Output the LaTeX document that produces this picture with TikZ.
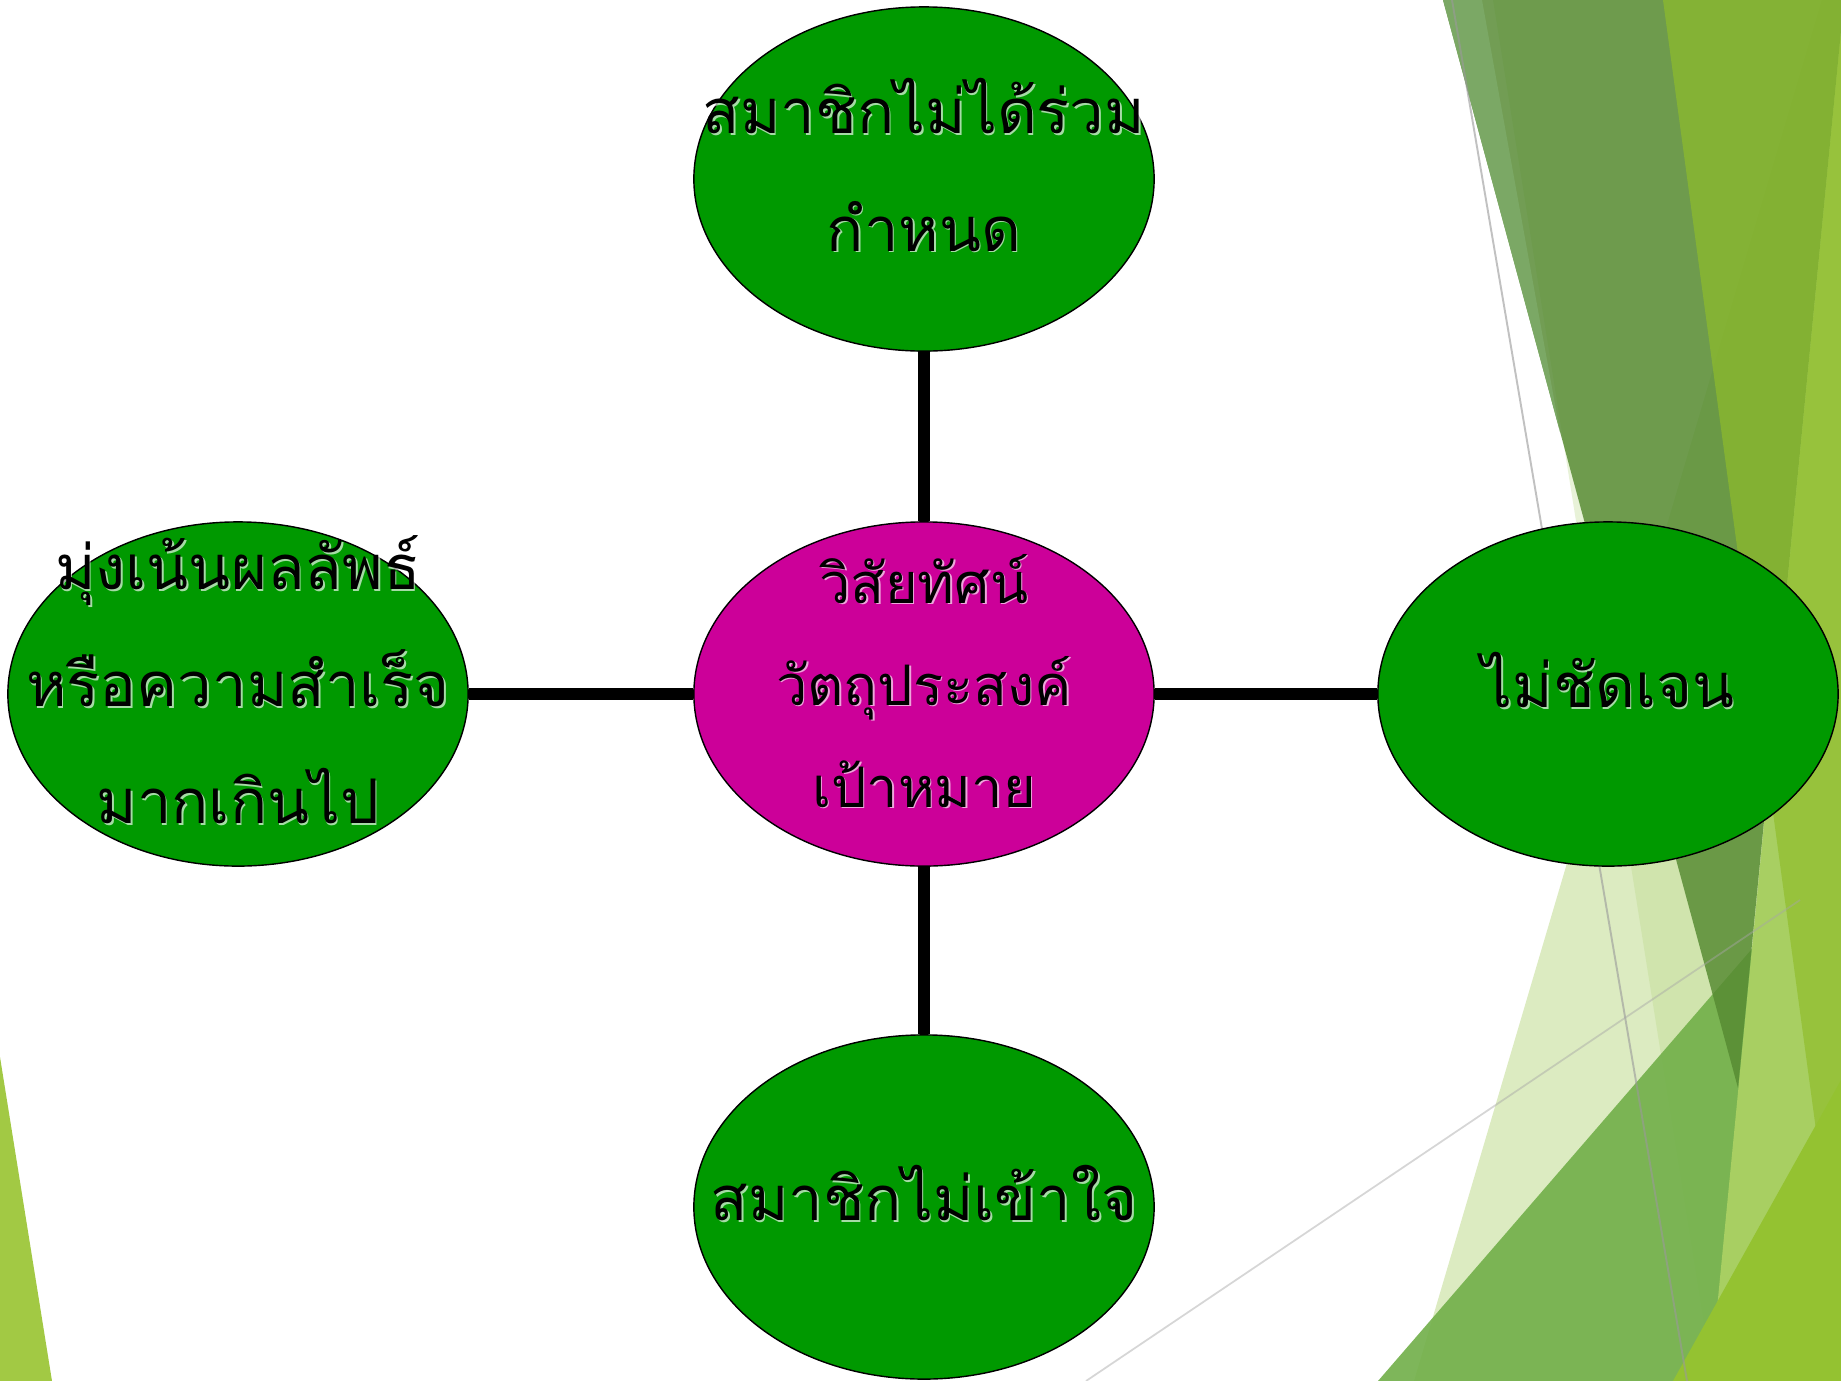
\documentclass[tikz,border=0pt]{standalone}
\usepackage{fontspec}
\newfontfamily\thaifont[Script=Thai]{Loma}
\usetikzlibrary{shapes.geometric}
\definecolor{ellgreen}{RGB}{0,153,0}
\definecolor{ellmag}{RGB}{204,0,153}
\definecolor{leftgreen}{RGB}{162,201,68}
\definecolor{paleP}{RGB}{220,235,193}
\definecolor{colG}{RGB}{182,214,131}
\definecolor{colM}{RGB}{113,175,73}
\definecolor{colT}{RGB}{168,207,98}
\definecolor{colD}{RGB}{86,138,50}
\definecolor{colSl}{RGB}{123,168,101}
\definecolor{colE}{RGB}{143,189,42}
\definecolor{colY}{RGB}{148,194,49}
\begin{document}
\begin{tikzpicture}[x=0.01cm,y=-0.01cm,
  bubble/.style={ellipse,draw=black,line width=0.4pt,minimum width=4.6cm,minimum height=3.44cm,inner sep=0pt},
  link/.style={line width=3.3pt,black},
  lbl/.style={align=center,text=black,yshift=0.14cm,font=\thaifont\fontsize{17.5}{33.3}\selectfont},
  lblc/.style={align=center,text=black,yshift=0.13cm,font=\thaifont\fontsize{15.9}{29}\selectfont},
  glow/.style={text=white,opacity=0.65,xshift=0.016cm,yshift=-0.016cm}
]
\useasboundingbox (0,0) rectangle (1841,1381);
\fill[white] (0,0) rectangle (1841,1381);
\begin{scope}
\clip (0,0) rectangle (1841,1381);
\fill[leftgreen] (0,1057) -- (52,1381) -- (0,1381) -- cycle;
\fill[paleP] (1414,1381) -- (1822,0) -- (1841,0) -- (1841,1381) -- cycle;
\fill[colG,opacity=0.31] (1493,0) -- (1844,0) -- (1713,1381) -- cycle;
\fill[colM,opacity=0.9] (1378,1381) -- (1841,846) -- (1841,1381) -- cycle;
\fill[colT] (1844,0) -- (1710,1381) -- (1850,1381) -- (1850,0) -- cycle;
\fill[colD,opacity=0.83] (1443,0) -- (1844,0) -- (1738,1088) -- cycle;
\fill[colSl] (1443,0) -- (1482,0) -- (1560,432) -- cycle;
\fill[colE,opacity=0.68] (1663,0) -- (1850,0) -- (1850,1381) -- cycle;
\fill[colY] (1673,1381) -- (1841,1080) -- (1841,1381) -- cycle;
\draw[black!40,opacity=0.6,line width=0.55pt] (1452,0) -- (1687,1381);
\draw[black!35,opacity=0.45,line width=0.5pt] (1086,1381) -- (1800,900);
\end{scope}

\node[bubble,fill=ellmag] (C) at (924,694) {};
\node[bubble,fill=ellgreen] (T) at (924,179) {};
\node[bubble,fill=ellgreen] (B) at (924,1207) {};
\node[bubble,fill=ellgreen] (L) at (238,694) {};
\node[bubble,fill=ellgreen] (R) at (1608,694) {};

\draw[link] (C) -- (T);
\draw[link] (C) -- (B);
\draw[link] (C) -- (L);
\draw[link] (C) -- (R);

\node[lblc,glow] (Cs) at (924,694) {วิสัยทัศน์\\วัตถุประสงค์\\เป้าหมาย};
\node[lblc] (Ct) at (924,694) {วิสัยทัศน์\\วัตถุประสงค์\\เป้าหมาย};
\node[lbl,glow] (Ts) at (924,179) {สมาชิกไม่ได้ร่วม\\กำหนด};
\node[lbl] (Tt) at (924,179) {สมาชิกไม่ได้ร่วม\\กำหนด};
\node[lbl,glow] (Bs) at (924,1207) {สมาชิกไม่เข้าใจ};
\node[lbl] (Bt) at (924,1207) {สมาชิกไม่เข้าใจ};
\node[lbl,glow] (Ls) at (238,694) {มุ่งเน้นผลลัพธ์\\หรือความสำเร็จ\\มากเกินไป};
\node[lbl] (Lt) at (238,694) {มุ่งเน้นผลลัพธ์\\หรือความสำเร็จ\\มากเกินไป};
\node[lbl,glow] (Rs) at (1608,694) {ไม่ชัดเจน};
\node[lbl] (Rt) at (1608,694) {ไม่ชัดเจน};
\end{tikzpicture}
\end{document}
